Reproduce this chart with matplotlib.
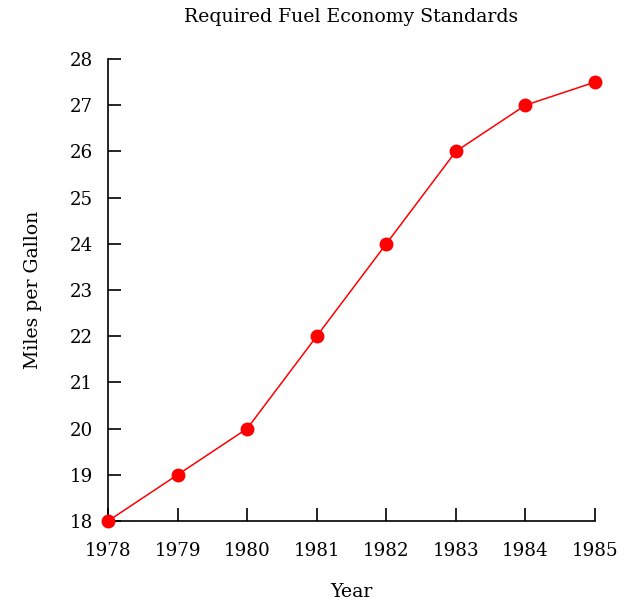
import matplotlib
matplotlib.use("Agg")
import matplotlib.pyplot as plt

years = [1978, 1979, 1980, 1981, 1982, 1983, 1984, 1985]
mpg = [18, 19, 20, 22, 24, 26, 27, 27.5]
yticks = list(range(18, 29))

plt.rcParams['font.family'] = 'DejaVu Serif'

fig = plt.figure(figsize=(6.36, 6.0), dpi=100)
ax = fig.add_axes([108 / 636, 79 / 600, 487 / 636, 462 / 600])

ax.plot(years, mpg, color='red', linewidth=1.1, marker='o', markersize=9,
        clip_on=False, zorder=3)

ax.set_xlim(years[0], years[-1])
ax.set_ylim(18, 28)
ax.set_xticks(years)
ax.set_yticks(yticks)

for side in ['top', 'right']:
    ax.spines[side].set_visible(False)
for side in ['left', 'bottom']:
    ax.spines[side].set_linewidth(1.2)

ax.tick_params(direction='in', length=9.5, width=1.2, labelsize=13.2)
ax.tick_params(axis='x', pad=15)
ax.tick_params(axis='y', pad=11)

ax.set_title("Required Fuel Economy Standards", fontsize=13.6, pad=27)
ax.set_xlabel("Year", fontsize=13.6, labelpad=17)
ax.set_ylabel("Miles per Gallon", fontsize=13.6, labelpad=20)

fig.savefig("out.png", dpi=100)
